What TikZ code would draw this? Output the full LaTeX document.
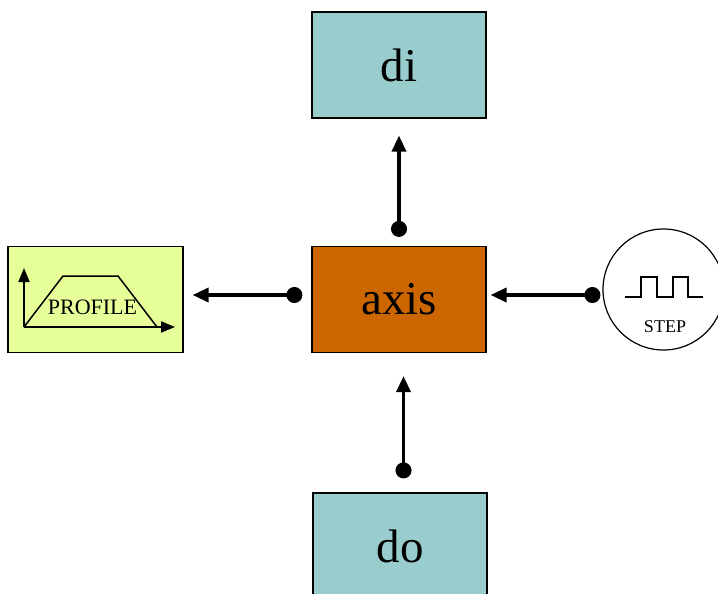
\documentclass[tikz,border=0pt]{standalone}
\usepackage{fontspec}
\setmainfont{Liberation Serif}
\usetikzlibrary{arrows.meta,positioning}
\definecolor{ioteal}{RGB}{153,204,204}
\definecolor{axisorange}{RGB}{204,102,0}
\definecolor{profgreen}{RGB}{230,255,153}

\begin{document}
\begin{tikzpicture}[x=1pt,y=-1pt,
   box/.style={draw,line width=1.2pt,minimum width=174pt,minimum height=106pt,inner sep=0pt,font=\fontsize{47}{50}\selectfont},
   iobox/.style={box,fill=ioteal},
   axisbox/.style={box,fill=axisorange},
   profbox/.style={box,fill=profgreen,minimum width=175pt},
   link/.style={line width=3.5pt,{Circle[length=16pt]}-{Triangle[length=16pt,width=14pt]}},
   axisarrow/.style={line width=2pt,-{Triangle[length=14pt,width=11pt]}}]
   \useasboundingbox (0,0) rectangle (718,594);
   \node[iobox] (di) at (399,65) {di};
   \node[axisbox] (axis) at (399,299.5) {axis};
   \node[iobox] (do) at (400,546) {do};
   \node[profbox] (profile) at (95.5,299.5) {};
   \node[circle,draw,line width=1.2pt,minimum size=121pt,inner sep=0pt] (step) at (663.5,289.5) {};
   % profile icon
   \draw[axisarrow] (24,327) -- (24,268);
   \draw[axisarrow] (24,327) -- (175,327);
   \draw[line width=1.5pt] (24,327) -- (63,276) -- (118,276) -- (157,327);
   \node[anchor=base,inner sep=0pt,font=\fontsize{22}{24}\selectfont] (proflabel) at (92.5,314) {PROFILE};
   % step icon
   \draw[line width=1.2pt] (625,297) -- (641,297) -- (641,277) -- (657,277) -- (657,297)
      -- (673,297) -- (673,277) -- (688,277) -- (688,297) -- (703,297);
   \node[anchor=base,inner sep=0pt,font=\fontsize{18}{20}\selectfont] (steplabel) at (665,332) {STEP};
   % connectors
   \draw[link,shorten <=9pt,shorten >=17pt] (axis.north) -- (di.south);
   \draw[link,shorten <=9pt,shorten >=9pt] ([yshift=4.5pt]axis.west) -- ([yshift=4.5pt]profile.east);
   \draw[link,shorten <=2pt,shorten >=4pt] ([yshift=-5.5pt]step.west) -- ([yshift=4.5pt]axis.east);
   \draw[link,shorten <=14pt,shorten >=23pt] ([xshift=3.5pt]do.north) -- ([xshift=3.5pt]do.north |- axis.south);
\end{tikzpicture}
\end{document}
